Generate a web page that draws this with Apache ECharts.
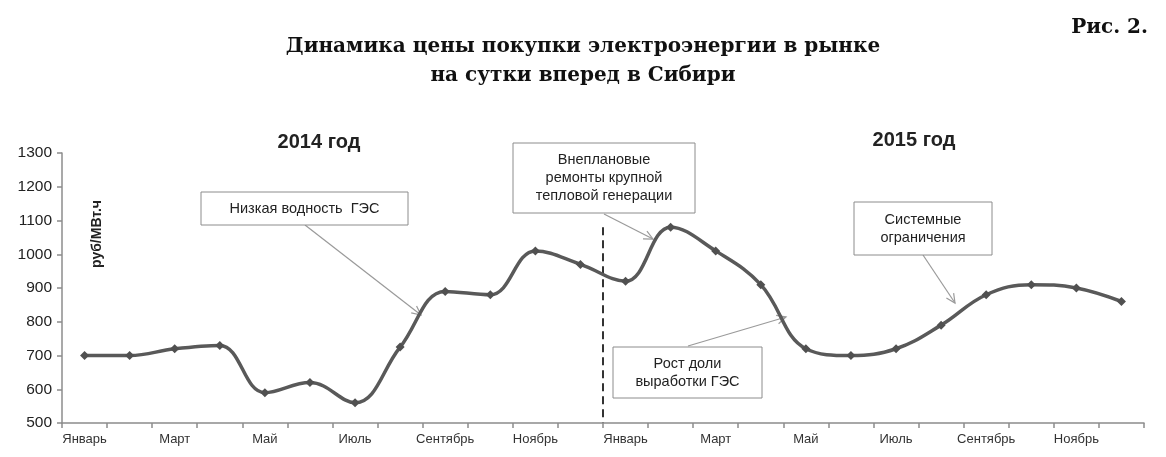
<!DOCTYPE html>
<html>
<head>
<meta charset="utf-8">
<script src="https://cdn.jsdelivr.net/npm/echarts@6/dist/echarts.min.js"></script>
<style>
  html, body { margin: 0; padding: 0; background: #fff; }
  #chart { width: 1166px; height: 457px; }
</style>
</head>
<body>
<div id="chart"></div>
<script>
// данные
var months = ['Январь', 'Февраль', 'Март', 'Апрель', 'Май', 'Июнь',
              'Июль', 'Август', 'Сентябрь', 'Октябрь', 'Ноябрь', 'Декабрь'];
var categories = months.concat(months);
var price2014 = [700, 700, 720, 730, 590, 620, 560, 725, 890, 880, 1010, 970];
var price2015 = [920, 1080, 1010, 910, 720, 700, 720, 790, 880, 910, 900, 860];
var yTicks = [500, 1300, 100]; // min, max, шаг

var chart = echarts.init(document.getElementById('chart'));

// рамка с подписью
function note(x, y, w, h, lines) {
    return [{
        type: 'rect',
        shape: { x: x, y: y, width: w, height: h },
        style: { fill: '#fff', stroke: '#8c8c8c', lineWidth: 1 }
    }, {
        type: 'text',
        style: {
            x: x + w / 2, y: y + h / 2,
            text: lines.join('\n'),
            align: 'center', verticalAlign: 'middle',
            fontFamily: 'Liberation Sans, Arial', fontSize: 14.5,
            lineHeight: 18, fill: '#222'
        }
    }];
}
// стрелка
function arrow(x1, y1, x2, y2) {
    var a = Math.atan2(y2 - y1, x2 - x1), L = 10, s = 0.45;
    return [{
        type: 'line', shape: { x1: x1, y1: y1, x2: x2, y2: y2 },
        style: { stroke: '#9a9a9a', lineWidth: 1.2 }
    }, {
        type: 'polyline',
        shape: { points: [
            [x2 - L * Math.cos(a - s), y2 - L * Math.sin(a - s)],
            [x2, y2],
            [x2 - L * Math.cos(a + s), y2 - L * Math.sin(a + s)]
        ] },
        style: { stroke: '#9a9a9a', lineWidth: 1.2, fill: null }
    }];
}

var option = {
    backgroundColor: '#fff',
    animation: false,
    grid: { left: 62, right: 22, top: 153, bottom: 34 },
    xAxis: {
        type: 'category',
        data: categories,
        boundaryGap: true,
        axisLine: { lineStyle: { color: '#8c8c8c', width: 1.5 } },
        axisTick: { show: true, interval: 0, length: 5, lineStyle: { color: '#8c8c8c', width: 1.5 } },
        axisLabel: {
            interval: 1, margin: 10,
            fontFamily: 'Liberation Sans, Arial', fontSize: 13, color: '#333'
        },
        splitLine: { show: false }
    },
    yAxis: {
        type: 'value',
        min: yTicks[0], max: yTicks[1], interval: yTicks[2],
        axisLine: { show: true, lineStyle: { color: '#8c8c8c', width: 1.5 } },
        axisTick: { show: true, length: 5, lineStyle: { color: '#8c8c8c', width: 1.5 } },
        axisLabel: {
            margin: 10,
            formatter: function (v) { return String(v); },
            fontFamily: 'Liberation Sans, Arial', fontSize: 15.5, color: '#222'
        },
        splitLine: { show: false }
    },
    series: [{
        type: 'line',
        data: price2014.concat(price2015),
        smooth: 0.4,
        symbol: 'diamond',
        symbolSize: 9,
        lineStyle: { color: '#595959', width: 3.5 },
        itemStyle: { color: '#505050' }
    }]
};
chart.setOption(option);

// пунктир между 2014 и 2015 годом
var p11 = chart.convertToPixel({ gridIndex: 0 }, [11, yTicks[0]]);
var p12 = chart.convertToPixel({ gridIndex: 0 }, [12, yTicks[0]]);
var pTop = chart.convertToPixel({ gridIndex: 0 }, [12, 1080]);
var xDiv = (p11[0] + p12[0]) / 2;

var graphics = [
    {
        type: 'line',
        shape: { x1: xDiv, y1: pTop[1], x2: xDiv, y2: p11[1] },
        style: { stroke: '#333', lineWidth: 2, lineDash: [8, 5] }
    },
    {
        type: 'text',
        style: {
            x: 583, y: 47, text: 'Динамика цены покупки электроэнергии в рынке',
            align: 'center', verticalAlign: 'middle',
            fontFamily: 'DejaVu Serif', fontWeight: 'bold', fontSize: 20, fill: '#111'
        }
    },
    {
        type: 'text',
        style: {
            x: 583, y: 76, text: 'на сутки вперед в Сибири',
            align: 'center', verticalAlign: 'middle',
            fontFamily: 'DejaVu Serif', fontWeight: 'bold', fontSize: 20, fill: '#111'
        }
    },
    {
        type: 'text',
        style: {
            x: 1148, y: 28, text: 'Рис. 2.',
            align: 'right', verticalAlign: 'middle',
            fontFamily: 'DejaVu Serif', fontWeight: 'bold', fontSize: 20, fill: '#111'
        }
    },
    {
        type: 'text',
        style: {
            x: 319, y: 142, text: '2014 год',
            align: 'center', verticalAlign: 'middle',
            fontFamily: 'Liberation Sans, Arial', fontWeight: 'bold', fontSize: 20, fill: '#222'
        }
    },
    {
        type: 'text',
        style: {
            x: 914, y: 140, text: '2015 год',
            align: 'center', verticalAlign: 'middle',
            fontFamily: 'Liberation Sans, Arial', fontWeight: 'bold', fontSize: 20, fill: '#222'
        }
    },
    {
        type: 'text',
        x: 97, y: 234, rotation: Math.PI / 2,
        style: {
            x: 0, y: 0, text: 'руб/МВт.ч',
            align: 'center', verticalAlign: 'middle',
            fontFamily: 'Liberation Sans, Arial', fontWeight: 'bold', fontSize: 14, fill: '#222'
        }
    }
];

graphics = graphics
    .concat(arrow(305, 225, 421, 315))
    .concat(arrow(604, 214, 653, 239))
    .concat(arrow(688, 346, 786, 317))
    .concat(arrow(923, 255, 955, 303))
    .concat(note(201, 192, 207, 33, ['Низкая водность  ГЭС']))
    .concat(note(513, 143, 182, 70, ['Внеплановые', 'ремонты крупной', 'тепловой генерации']))
    .concat(note(613, 347, 149, 51, ['Рост доли', 'выработки ГЭС']))
    .concat(note(854, 202, 138, 53, ['Системные', 'ограничения']));

chart.setOption({ graphic: { elements: graphics } });
</script>
</body>
</html>
